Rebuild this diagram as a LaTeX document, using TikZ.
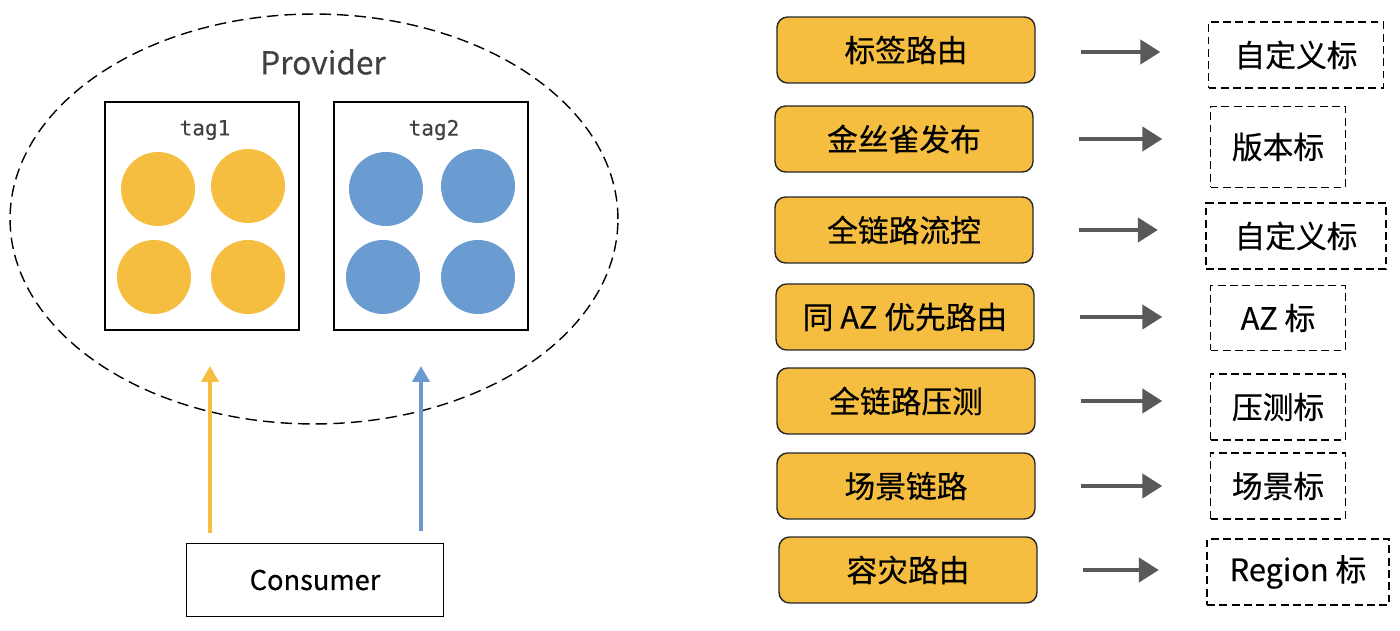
\documentclass[tikz,border=0pt]{standalone}
\usepackage{fontspec}
\setmainfont{Noto Sans CJK SC}
\newfontfamily\medfont[FakeBold=0.4]{Noto Sans CJK SC}
\newfontfamily\tagfont[FakeBold=0.3]{DejaVu Sans Mono}
\usetikzlibrary{arrows.meta,positioning,shapes.geometric}
\usepackage{xcolor}
\definecolor{cyellow}{HTML}{F5BE41}
\definecolor{cblue}{HTML}{6A9BD1}
\definecolor{cgray}{HTML}{595959}
\definecolor{cdark}{HTML}{404040}

\begin{document}
\begin{tikzpicture}[
  x=0.02cm, y=-0.02cm,
  grp/.style={draw, line width=0.8pt, minimum width=3.88cm, minimum height=4.56cm},
  inst/.style={circle, fill=#1, minimum size=1.48cm, inner sep=0pt},
  scene/.style={draw=black!85, fill=cyellow, rounded corners=6pt, line width=0.8pt,
                minimum width=5.16cm, minimum height=1.32cm,
                font=\medfont\fontsize{17.5}{20}\selectfont},
  tagbox/.style={draw, line width=0.8pt, dash pattern=on 4.5pt off 2.5pt,
                 minimum height=1.32cm, font=\medfont\fontsize{17.5}{20}\selectfont},
  flow/.style={-{Triangle[length=0.4cm,width=0.48cm]}, line width=2.5pt, draw=cgray,
               shorten <=0.9cm, shorten >=0.95cm},
  uparrow/.style={-{Triangle[length=0.32cm,width=0.34cm]}, line width=2.6pt}
]
\useasboundingbox (0,0) rectangle (1400,631);

% provider side
\node[draw, ellipse, dash pattern=on 6.5pt off 3.5pt, line width=0.8pt,
      minimum width=12.16cm, minimum height=8.2cm] (provider) at (314,219) {};
\node[font=\medfont\fontsize{18}{22}\selectfont, text=cdark] (plabel) at (323,62) {Provider};

\node[grp] (g1) at (202,216) {};
\node[grp] (g2) at (431,216) {};
\node[font=\tagfont\fontsize{12}{14}\selectfont, text=cdark] (tag1) at (205,130) {tag1};
\node[font=\tagfont\fontsize{12}{14}\selectfont, text=cdark] (tag2) at (434,130) {tag2};

\node[inst=cyellow] (y1) at (158,189) {};
\node[inst=cyellow] (y2) at (248,186) {};
\node[inst=cyellow] (y3) at (154,277) {};
\node[inst=cyellow] (y4) at (248,277) {};
\node[inst=cblue] (b1) at (386,189) {};
\node[inst=cblue] (b2) at (478,186) {};
\node[inst=cblue] (b3) at (383,277) {};
\node[inst=cblue] (b4) at (478,277) {};

\node[draw, line width=0.8pt, minimum width=5.14cm, minimum height=1.46cm,
      font=\medfont\fontsize{15.5}{18}\selectfont] (consumer) at (315,580) {Consumer};

\coordinate (ytip) at (210,366);
\coordinate (btip) at (421,366);
\draw[uparrow, draw=cyellow, shorten <=0.2cm] (consumer.north -| ytip) -- (ytip);
\draw[uparrow, draw=cblue, shorten <=0.24cm] (consumer.north -| btip) -- (btip);

% routing scenes
\node[scene] (r1) at (906,50) {标签路由};
\node[scene] (r2) at (904,139) {金丝雀发布};
\node[scene] (r3) at (904,230) {全链路流控};
\node[scene] (r4) at (905,317) {同 AZ 优先路由};
\node[scene] (r5) at (906,401) {全链路压测};
\node[scene] (r6) at (906,486) {场景链路};
\node[scene] (r7) at (908,570) {容灾路由};

\node[tagbox, minimum width=3.5cm] (t1) at (1296,55) {自定义标};
\node[tagbox, minimum width=2.7cm, minimum height=1.62cm] (t2) at (1278,147) {版本标};
\node[tagbox, minimum width=3.6cm] (t3) at (1296,236) {自定义标};
\node[tagbox, minimum width=2.7cm, minimum height=1.3cm] (t4) at (1278,318) {AZ 标};
\node[tagbox, minimum width=2.7cm] (t5) at (1278,407) {压测标};
\node[tagbox, minimum width=2.7cm] (t6) at (1278,486) {场景标};
\node[tagbox, minimum width=3.64cm] (t7) at (1298,572) {Region 标};

\draw[flow] (r1.east) ++(0,2) -- (t1.west |- 0,52);
\draw[flow] (r2.east) -- (r2.east -| t2.west);
\draw[flow] (r3.east) -- (r3.east -| t3.west);
\draw[flow] (r4.east) -- (r4.east -| t4.west);
\draw[flow] (r5.east) -- (r5.east -| t5.west);
\draw[flow] (r6.east) -- (r6.east -| t6.west);
\draw[flow] (r7.east) -- (r7.east -| t7.west);
\end{tikzpicture}
\end{document}
